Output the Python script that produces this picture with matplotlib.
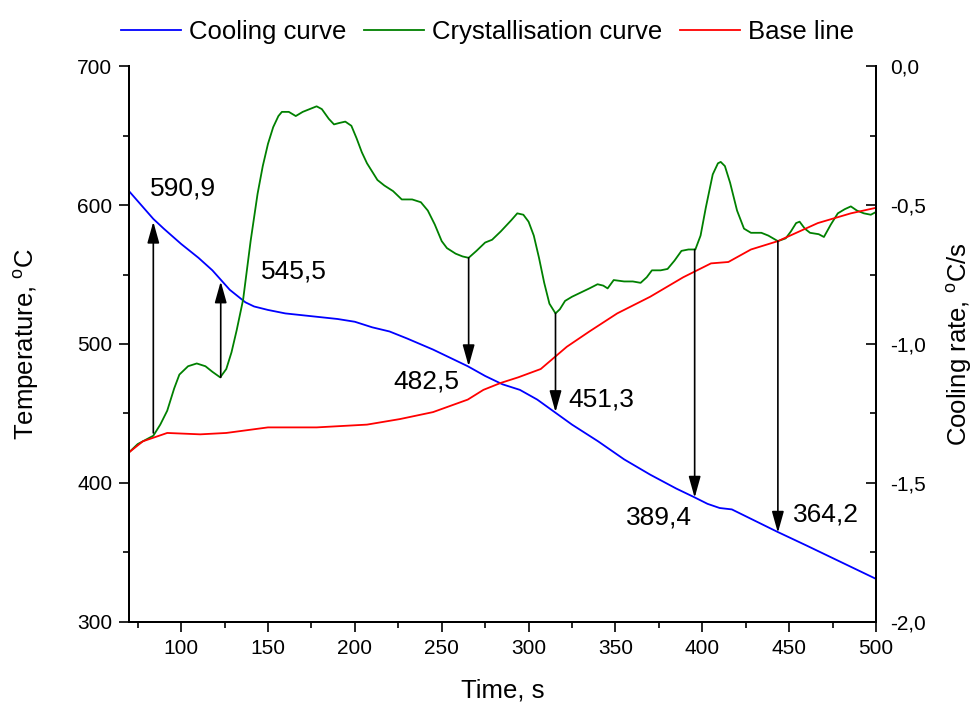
import numpy as np
import matplotlib.pyplot as plt
from matplotlib.ticker import MultipleLocator, FuncFormatter

plt.rcParams['font.family'] = ['Liberation Sans', 'DejaVu Sans']

# cooling curve (temperature, left axis)
cool_t = [70, 77, 84, 90, 100, 110, 118, 123, 128, 133, 137, 142, 150, 160, 175, 190, 200,
          210, 220, 230, 245, 255, 265, 275, 285, 295, 305, 315, 325, 340, 355, 370, 385,
          395, 403, 410, 417, 430, 443, 460, 475, 490, 500]
cool_T = [610, 600, 590, 583, 572, 562, 553, 546, 539, 534, 530, 527, 524.5, 522, 520, 518, 516,
          512, 509, 504, 496, 490, 484, 477, 471, 467, 460, 451, 442, 430, 417, 406, 396,
          390, 385, 382, 381, 373, 365, 355, 346, 337, 331]

# crystallisation curve (cooling rate, right axis)
cryst_t = [70, 75, 78, 84, 88, 92, 96, 99, 104, 109, 114, 118, 122.5, 126, 129, 132, 135.7,
           140, 144, 147, 150, 153, 156, 158, 162, 166, 170, 174, 178, 181, 185, 188, 191,
           194.5, 198, 201, 204, 207, 210, 213, 217, 222, 227, 233, 238, 242, 246, 250, 253,
           258, 262, 265.5, 270, 275, 279, 284, 290, 293.5, 297, 300, 303, 306, 309, 312,
           315.5, 318, 321, 325, 330, 335, 339.7, 343, 345.5, 349, 355, 360, 364.5, 368, 371,
           376, 380, 384, 388, 392, 396, 399, 402, 406, 409, 410.6, 413, 416, 420, 424, 428,
           434, 438, 443.5, 448, 451, 454, 456, 459, 462, 467, 470, 474, 478, 482, 485.5,
           489, 493, 497, 500]
cryst_r = [-1.39, -1.36, -1.35, -1.33, -1.29, -1.24, -1.16, -1.11, -1.08, -1.07, -1.08, -1.10,
           -1.12, -1.09, -1.03, -0.95, -0.84, -0.63, -0.46, -0.36, -0.28, -0.22, -0.18, -0.165,
           -0.165, -0.18, -0.165, -0.155, -0.145, -0.155, -0.19, -0.21, -0.205, -0.20, -0.215,
           -0.26, -0.31, -0.35, -0.38, -0.41, -0.43, -0.45, -0.48, -0.48, -0.49, -0.52, -0.57,
           -0.63, -0.655, -0.675, -0.685, -0.69, -0.665, -0.635, -0.625, -0.595, -0.555, -0.53,
           -0.535, -0.56, -0.61, -0.69, -0.78, -0.855, -0.89, -0.875, -0.845, -0.83, -0.815,
           -0.80, -0.785, -0.79, -0.80, -0.77, -0.775, -0.775, -0.78, -0.76, -0.735, -0.735,
           -0.73, -0.70, -0.665, -0.66, -0.66, -0.61, -0.51, -0.39, -0.35, -0.345, -0.36, -0.42,
           -0.52, -0.585, -0.60, -0.60, -0.61, -0.63, -0.62, -0.595, -0.565, -0.56, -0.585,
           -0.60, -0.605, -0.615, -0.57, -0.53, -0.515, -0.505, -0.52, -0.53, -0.535, -0.525]

# base line (right axis)
base_t = [70, 78, 92, 111, 126, 150, 178, 207, 226, 245, 265, 274, 284, 294, 307, 322, 335,
          351, 370, 389, 405, 415, 428, 443.5, 466.5, 485.5, 500]
base_r = [-1.39, -1.35, -1.32, -1.325, -1.32, -1.30, -1.30, -1.29, -1.27, -1.245, -1.20,
          -1.165, -1.14, -1.12, -1.09, -1.01, -0.955, -0.89, -0.83, -0.76, -0.71, -0.705,
          -0.66, -0.63, -0.565, -0.53, -0.51]

# characteristic points: time, rate at tail, temperature at head
arrow_t = [84, 122.8, 265.5, 315.5, 395.6, 443.5]
arrow_r = [-1.32, -1.12, -0.69, -0.89, -0.66, -0.63]
arrow_T = [588, 545, 484, 451, 389.4, 364.2]
labels = ['590,9', '545,5', '482,5', '451,3', '389,4', '364,2']
label_xy = [(82, 612), (146, 552), (222, 473), (323, 460), (356, 375.5), (452, 377)]

fig = plt.figure(figsize=(9.75, 7.06), dpi=100)
ax = fig.add_axes([0.1323, 0.119, 0.7662, 0.7875])
ax2 = ax.twinx()

l1, = ax.plot(cool_t, cool_T, color='#0000ff', lw=1.3, label='Cooling curve')
l2, = ax2.plot(cryst_t, cryst_r, color='#008000', lw=1.3, label='Crystallisation curve')
l3, = ax2.plot(base_t, base_r, color='#ff0000', lw=1.3, label='Base line')

for x, r, T in zip(arrow_t, arrow_r, arrow_T):
    ax2.annotate('', xy=(x, T), xycoords=ax.transData, xytext=(x, r),
                 textcoords=ax2.transData,
                 arrowprops=dict(arrowstyle='-|>,head_length=1.0,head_width=0.28',
                                 mutation_scale=13, color='black', lw=1.2,
                                 shrinkA=0, shrinkB=0))
for s, (x, y) in zip(labels, label_xy):
    ax.text(x, y, s, fontsize=19, ha='left', va='center')

ax.set_xlim(70, 500)
ax.set_ylim(300, 700)
ax2.set_ylim(-2.0, 0.0)

ax.xaxis.set_major_locator(MultipleLocator(50))
ax.xaxis.set_minor_locator(MultipleLocator(25))
ax.yaxis.set_major_locator(MultipleLocator(100))
ax.yaxis.set_minor_locator(MultipleLocator(50))
ax2.yaxis.set_major_locator(MultipleLocator(0.5))
ax2.yaxis.set_minor_locator(MultipleLocator(0.25))
ax2.yaxis.set_major_formatter(FuncFormatter(lambda v, p: f'{v:.1f}'.replace('.', ',')))

for a in (ax, ax2):
    a.spines['top'].set_visible(False)
    for sp in a.spines.values():
        sp.set_linewidth(1.4)
ax.tick_params(which='major', direction='out', length=7, width=1.2, labelsize=15, pad=5)
ax.tick_params(which='minor', direction='out', length=4, width=1.2)
ax2.tick_params(which='major', direction='in', length=7, width=1.2, labelsize=15, pad=10)
ax2.tick_params(which='minor', direction='in', length=4, width=1.2)

ax.set_xlabel('Time, s', fontsize=18.5, labelpad=15)
ax.set_ylabel('Temperature, $^\\mathregular{o}$C', fontsize=18.5, labelpad=26)
ax2.set_ylabel('Cooling rate, $^\\mathregular{o}$C/s', fontsize=18.5, labelpad=13)

fig.legend(handles=[l1, l2, l3], loc='upper center', bbox_to_anchor=(0.5, 1.005),
           ncol=3, frameon=False, fontsize=18.5, handlelength=2.33, handletextpad=0.31,
           columnspacing=0.7)

fig.savefig('out.png', dpi=100)
